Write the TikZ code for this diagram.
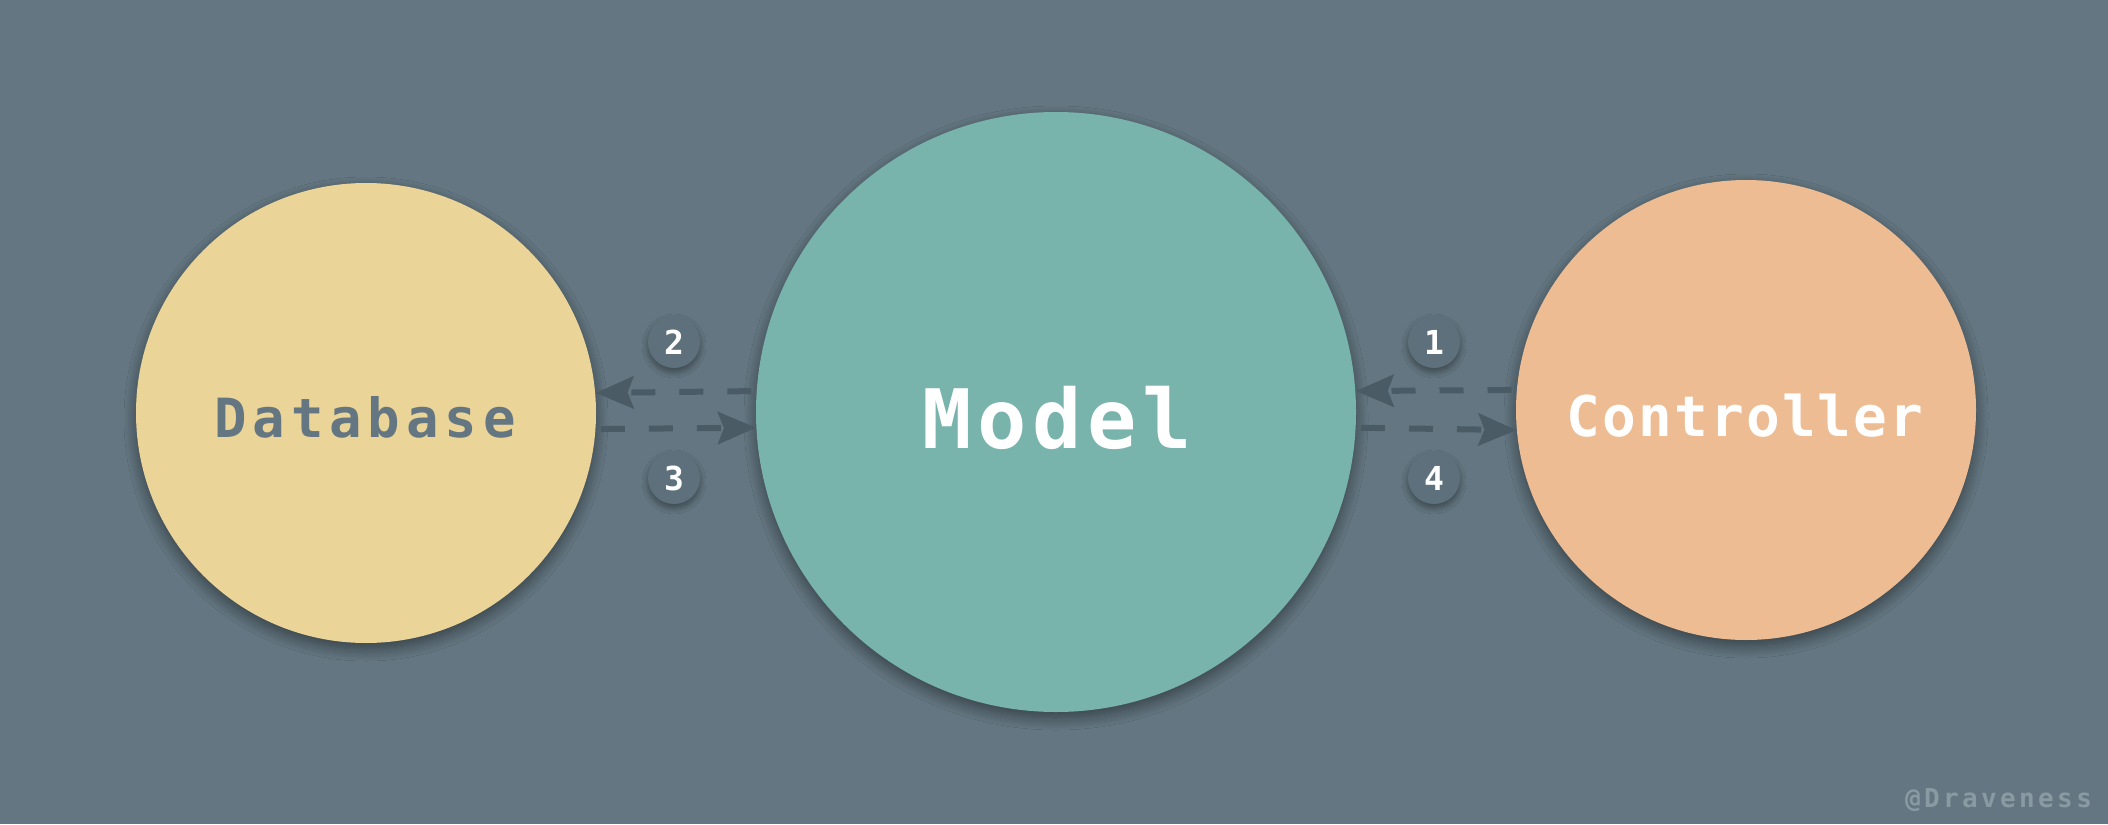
\documentclass[tikz,border=0pt]{standalone}
\usepackage{fontspec}
\newfontfamily\modelfont[LetterSpace=7]{DejaVu Sans Mono}
\newfontfamily\lblfont[LetterSpace=11]{DejaVu Sans Mono}
\newfontfamily\ctlfont[LetterSpace=4]{DejaVu Sans Mono}
\newfontfamily\numfont{DejaVu Sans Mono}
\newfontfamily\wmfont[LetterSpace=13]{DejaVu Sans Mono}
\usetikzlibrary{arrows.meta,shadows.blur}
\definecolor{bg}{HTML}{637681}
\definecolor{dbc}{HTML}{EBD498}
\definecolor{modelc}{HTML}{78B4AC}
\definecolor{ctlc}{HTML}{EEBC92}
\definecolor{arrowc}{HTML}{4A5B66}
\definecolor{badgec}{HTML}{5E707B}
\definecolor{wmc}{HTML}{8A9AA3}
\tikzset{
  bigcirc/.style={circle, inner sep=0pt, draw=none,
    blur shadow={shadow xshift=0pt, shadow yshift=-3pt, shadow blur radius=6pt,
      shadow blur steps=12, shadow opacity=45}},
  badge/.style={circle, fill=badgec, inner sep=0pt, minimum size=26pt, text=white,
    font=\numfont\bfseries\fontsize{16.5pt}{16.5pt}\selectfont,
    blur shadow={shadow xshift=0pt, shadow yshift=-2pt, shadow blur radius=3pt,
      shadow blur steps=8, shadow opacity=40}},
  flow/.style={draw=arrowc, line width=3pt, dash pattern=on 12pt off 12pt,
    -{Stealth[length=19pt,width=16pt,inset=3pt]}},
}
\begin{document}
\begin{tikzpicture}[x=0.5pt,y=-0.5pt]
\fill[bg] (0,0) rectangle (2108,824);
\useasboundingbox (0,0) rectangle (2108,824);

\node[bigcirc, fill=dbc, minimum size=230pt] (db) at (366,413) {};
\node[bigcirc, fill=modelc, minimum size=300pt] (model) at (1056,412) {};
\node[bigcirc, fill=ctlc, minimum size=230pt] (ctl) at (1746,410) {};

\node[anchor=base, text=bg, font=\lblfont\bfseries\fontsize{27pt}{27pt}\selectfont] (dbl) at (365,437) {Database};
\node[anchor=base, text=white, font=\modelfont\bfseries\fontsize{41pt}{41pt}\selectfont] (modell) at (1057,448) {Model};
\node[anchor=base, text=white, font=\ctlfont\bfseries\fontsize{28pt}{28pt}\selectfont] (ctll) at (1745,436) {Controller};

\draw[flow, shorten <=2.5pt] (model.176) -- (db.5.5);
\draw[flow, shorten <=2.5pt] (db.-4.5) -- (model.183.6);
\draw[flow, shorten <=2.5pt] (ctl.175.3) -- (model.4);
\draw[flow, shorten <=2.5pt] (model.-3.6) -- (ctl.185.2);

\node[badge] (b2) at (674,342) {2};
\node[badge] (b3) at (674,478) {3};
\node[badge] (b1) at (1434,342) {1};
\node[badge] (b4) at (1434,478) {4};

\node[anchor=base east, text=wmc, font=\wmfont\bfseries\fontsize{13pt}{13pt}\selectfont] (wm) at (2099,807) {@Draveness};
\end{tikzpicture}
\end{document}
